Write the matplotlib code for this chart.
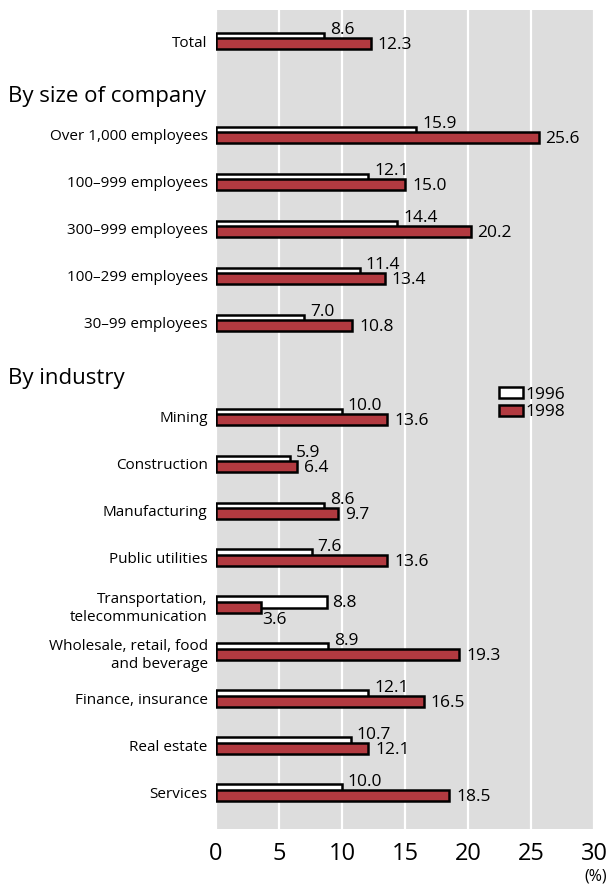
import matplotlib
matplotlib.use("Agg")
import matplotlib.pyplot as plt
from matplotlib.patches import Patch
from matplotlib.transforms import blended_transform_factory

plt.rcParams['font.family'] = ['Open Sans', 'DejaVu Sans']

# rows of the chart, top to bottom
categories = ["Total",
              "Over 1,000 employees", "100\u2013999 employees", "300\u2013999 employees",
              "100\u2013299 employees", "30\u201399 employees",
              "Mining", "Construction", "Manufacturing", "Public utilities",
              "Transportation,\ntelecommunication", "Wholesale, retail, food\nand beverage",
              "Finance, insurance", "Real estate", "Services"]
vals_1996 = [8.6, 15.9, 12.1, 14.4, 11.4, 7.0, 10.0, 5.9, 8.6, 7.6, 8.8, 8.9, 12.1, 10.7, 10.0]
vals_1998 = [12.3, 25.6, 15.0, 20.2, 13.4, 10.8, 13.6, 6.4, 9.7, 13.6, 3.6, 19.3, 16.5, 12.1, 18.5]
rows = [0, 2, 3, 4, 5, 6, 8, 9, 10, 11, 12, 13, 14, 15, 16]
headers = ["By size of company", "By industry"]
header_rows = [1.19, 7.19]
xticks = [0, 5, 10, 15, 20, 25, 30]

red = "#b23a40"
grey = "#dddddd"

fig = plt.figure(figsize=(6.1, 8.88), dpi=100)
ax = fig.add_axes([216 / 610, 1 - 829 / 888, 378 / 610, 819 / 888])
ax.set_facecolor(grey)

ax.barh([r - 0.051 for r in rows], vals_1996, height=0.255, color="white",
        edgecolor="black", linewidth=1.8, zorder=2)
ax.barh([r + 0.063 for r in rows], vals_1998, height=0.234, color=red,
        edgecolor="black", linewidth=1.8, zorder=3)

for r, a, b in zip(rows, vals_1996, vals_1998):
    if a <= b:
        ax.text(a + 0.45, r - 0.24, f"{a:.1f}", va="center", ha="left", fontsize=12.5)
        ax.text(b + 0.55, r + 0.08, f"{b:.1f}", va="center", ha="left", fontsize=12.5)
    else:
        ax.text(a + 0.45, r - 0.05, f"{a:.1f}", va="center", ha="left", fontsize=12.5)
        ax.text(b + 0.1, r + 0.32, f"{b:.1f}", va="center", ha="left", fontsize=12.5)

ax.set_xlim(0, 30)
ax.set_ylim(16.77, -0.66)
ax.set_xticks(xticks)
ax.set_xticklabels([str(t) for t in xticks], fontsize=17)
ax.set_yticks(rows)
ax.set_yticklabels(categories, fontsize=11, linespacing=1.3)
ax.tick_params(axis="both", length=0)
ax.tick_params(axis="x", pad=9)
ax.tick_params(axis="y", pad=6)
ax.xaxis.grid(True, color="white", linewidth=1.6)
ax.set_axisbelow(True)
for s in ax.spines.values():
    s.set_visible(False)

trans = blended_transform_factory(fig.transFigure, ax.transData)
for h, y in zip(headers, header_rows):
    ax.text(8 / 610, y, h, transform=trans, ha="left", va="center", fontsize=16)

fig.text(607 / 610, 1 - 876 / 888, "(%)", ha="right", va="center", fontsize=11.5)

handles = [Patch(facecolor="white", edgecolor="black", linewidth=1.8),
           Patch(facecolor=red, edgecolor="black", linewidth=1.8)]
ax.legend(handles, ["1996", "1998"], loc="upper left", bbox_to_anchor=(0.75, 0.54),
          frameon=False, fontsize=12.5, handlelength=1.35, handleheight=0.65,
          handletextpad=0.15, labelspacing=0.1, borderpad=0, borderaxespad=0)

fig.savefig("out.png", dpi=100)
